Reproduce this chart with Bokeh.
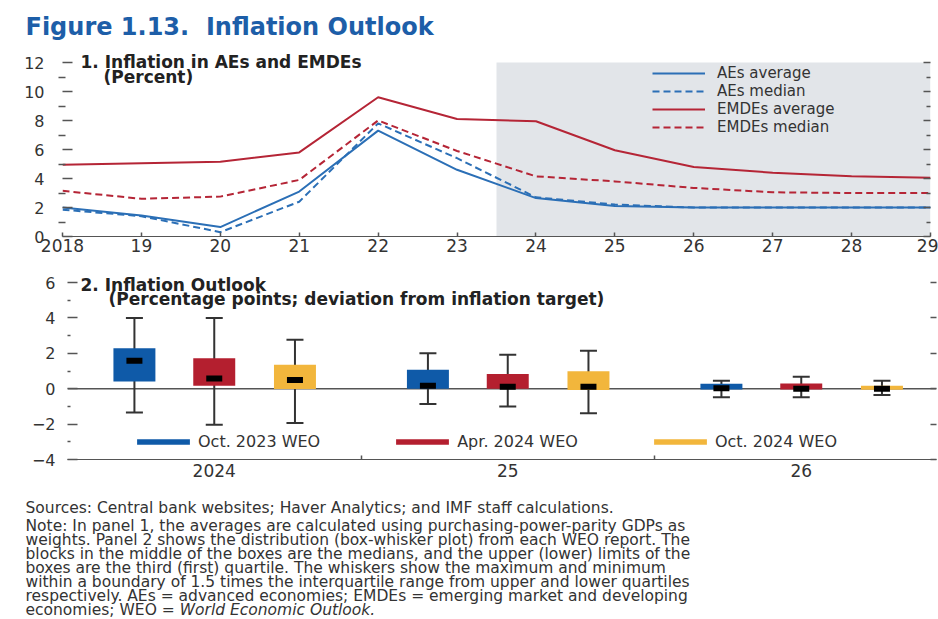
from bokeh.plotting import figure
from bokeh.models import (Range1d, FixedTicker, LinearAxis, BoxAnnotation, Span,
                          Label, Legend, LegendItem)
from bokeh.layouts import column
from bokeh.embed import file_html
from bokeh.resources import INLINE

# ---------------- data ----------------
years = [2018, 2019, 2020, 2021, 2022, 2023, 2024, 2025, 2026, 2027, 2028, 2029]
year_labels = ["2018", "19", "20", "21", "22", "23", "24", "25", "26", "27", "28", "29"]
aes_avg = [2.0, 1.45, 0.65, 3.1, 7.3, 4.6, 2.65, 2.1, 2.0, 2.0, 2.0, 2.0]
aes_med = [1.85, 1.4, 0.3, 2.4, 7.8, 5.4, 2.7, 2.2, 2.0, 2.0, 2.0, 2.0]
emdes_avg = [4.95, 5.05, 5.15, 5.8, 9.6, 8.1, 7.95, 5.95, 4.8, 4.4, 4.15, 4.05]
emdes_med = [3.15, 2.6, 2.75, 3.9, 8.0, 5.9, 4.15, 3.8, 3.35, 3.05, 3.0, 3.0]
projection_start = 2023.5
projection_end = 2029

groups = [0, 1, 2]
group_labels = ["2024", "25", "26"]
series_names = ["Oct. 2023 WEO", "Apr. 2024 WEO", "Oct. 2024 WEO"]
series_offsets = [-0.272, 0.0, 0.275]
q1 = {"Oct. 2023 WEO": [0.41, 0.0, -0.05],
      "Apr. 2024 WEO": [0.17, 0.0, -0.05],
      "Oct. 2024 WEO": [-0.02, -0.08, -0.06]}
q3 = {"Oct. 2023 WEO": [2.28, 1.07, 0.28],
      "Apr. 2024 WEO": [1.72, 0.83, 0.30],
      "Oct. 2024 WEO": [1.36, 0.98, 0.17]}
med = {"Oct. 2023 WEO": [1.58, 0.17, 0.02],
       "Apr. 2024 WEO": [0.58, 0.11, 0.0],
       "Oct. 2024 WEO": [0.49, 0.11, 0.0]}
wlo = {"Oct. 2023 WEO": [-1.34, -0.87, -0.49],
       "Apr. 2024 WEO": [-2.04, -1.0, -0.49],
       "Oct. 2024 WEO": [-1.94, -1.38, -0.36]}
whi = {"Oct. 2023 WEO": [4.0, 2.0, 0.45],
       "Apr. 2024 WEO": [4.0, 1.92, 0.68],
       "Oct. 2024 WEO": [2.77, 2.15, 0.45]}

title_text = "Figure 1.13.\u00a0 Inflation Outlook"
sources = "Sources: Central bank websites; Haver Analytics; and IMF staff calculations."
notes = [
    "Note: In panel 1, the averages are calculated using purchasing-power-parity GDPs as",
    "weights. Panel 2 shows the distribution (box-whisker plot) from each WEO report. The",
    "blocks in the middle of the boxes are the medians, and the upper (lower) limits of the",
    "boxes are the third (first) quartile. The whiskers show the maximum and minimum",
    "within a boundary of 1.5 times the interquartile range from upper and lower quartiles",
    "respectively. AEs = advanced economies; EMDEs = emerging market and developing",
]
last_note_plain = "economies; WEO ="
last_note_italic = "World Economic Outlook."

# ---------------- style ----------------
FONT = "DejaVu Sans"
TXT = "#333333"
TITLE_BLUE = "#1d5ea8"
BLUE_L = "#2b6fb6"
RED_L = "#b52536"
BOX_COLORS = ["#0f5aa8", "#b41f2f", "#f2b63c"]
AXIS_C = "#555555"
SHADE = "#e2e5e9"
W = 938


def no_align(f):
    if "frame_align" in f.properties():
        f.frame_align = False
    return f


def style_axes(p):
    for ax in p.axis:
        ax.major_label_text_font = FONT
        ax.major_label_text_font_size = "16px"
        ax.major_label_text_color = TXT
        ax.axis_line_color = AXIS_C
        ax.major_tick_line_color = AXIS_C
        ax.minor_tick_line_color = AXIS_C
        ax.major_tick_line_width = 1.5
        ax.minor_tick_line_width = 1.5


def blank_fig(h):
    f = figure(width=W, height=h, x_range=Range1d(0, 1), y_range=Range1d(0, 1),
               x_axis_type=None, y_axis_type=None, output_backend="svg",
               toolbar_location=None, min_border=0, outline_line_color=None)
    f.grid.visible = False
    return no_align(f)


# ---------------- header ----------------
pH = blank_fig(44)
pH.add_layout(Label(x=25, y=44 - 26, x_units="screen", y_units="screen", text=title_text,
                    text_font=FONT, text_font_style="bold", text_font_size="24px",
                    text_color=TITLE_BLUE, text_baseline="middle"))

# ---------------- panel 1 ----------------
# frame: page y 44..236, 12 at y=62  -> 14.5 px per unit
pA = figure(width=W, height=218, x_range=Range1d(2018, 2029), y_range=Range1d(0, 192 / 14.5),
            output_backend="svg", toolbar_location=None,
            min_border_left=62, min_border_right=8, min_border_top=0, min_border_bottom=26,
            outline_line_color=None)
no_align(pA)
pA.grid.visible = False
pA.add_layout(BoxAnnotation(left=projection_start, right=projection_end, bottom=0, top=12,
                            fill_color=SHADE, fill_alpha=1, line_color=None, level="underlay"))

r1 = pA.line(years, aes_avg, line_color=BLUE_L, line_width=2)
r2 = pA.line(years, aes_med, line_color=BLUE_L, line_width=2, line_dash="7 4")
r3 = pA.line(years, emdes_avg, line_color=RED_L, line_width=2)
r4 = pA.line(years, emdes_med, line_color=RED_L, line_width=2, line_dash="7 4")

pA.add_layout(LinearAxis(), "right")
style_axes(pA)
xa = pA.xaxis[0]
xa.ticker = FixedTicker(ticks=years, minor_ticks=[])
xa.major_label_overrides = {y: l for y, l in zip(years, year_labels)}
xa.major_tick_in = 4
xa.major_tick_out = 0
xa.major_label_standoff = 2
xa.major_label_text_font_size = "17px"
yticksA = list(range(0, 13, 2))
ya = pA.yaxis[0]
ya.ticker = FixedTicker(ticks=yticksA, minor_ticks=list(range(1, 12, 2)))
ya.axis_line_color = None
ya.major_tick_in = 10
ya.major_tick_out = 0
ya.minor_tick_in = 3
ya.minor_tick_out = 4
ya.major_label_standoff = 14
ra = pA.yaxis[1]
ra.ticker = FixedTicker(ticks=yticksA, minor_ticks=list(range(1, 12, 2)))
ra.major_label_overrides = {t: "" for t in yticksA}
ra.axis_line_color = None
ra.major_tick_in = 7
ra.major_tick_out = 0
ra.minor_tick_in = 4
ra.minor_tick_out = 0
ra.major_label_standoff = 0

legA = Legend(items=[LegendItem(label="AEs average", renderers=[r1]),
                     LegendItem(label="AEs median", renderers=[r2]),
                     LegendItem(label="EMDEs average", renderers=[r3]),
                     LegendItem(label="EMDEs median", renderers=[r4])],
              location=(590, 100), orientation="vertical", glyph_width=53, glyph_height=14,
              label_height=14, label_standoff=12, spacing=0, padding=0, margin=0,
              background_fill_alpha=0, border_line_color=None,
              label_text_font=FONT, label_text_font_size="15px", label_text_color=TXT)
pA.add_layout(legA)

# panel title (frame origin: page x=62, y=236)
pA.add_layout(Label(x=80 - 62, y=236 - 61, x_units="screen", y_units="screen",
                    text="1. Inflation in AEs and EMDEs", text_font=FONT, text_font_style="bold",
                    text_font_size="17px", text_color="#222222", text_baseline="middle"))
pA.add_layout(Label(x=103 - 62, y=236 - 76, x_units="screen", y_units="screen",
                    text="(Percent)", text_font=FONT, text_font_style="bold",
                    text_font_size="17px", text_color="#222222", text_baseline="middle"))

# ---------------- panel 2 ----------------
# frame: page y 262..459, 6 at y=282 -> 17.7 px per unit; x: 293.5 px per group
pB = figure(width=W, height=228, x_range=Range1d(-0.5, -0.5 + 869 / 293.5),
            y_range=Range1d(-4, -4 + 197 / 17.7),
            output_backend="svg", toolbar_location=None,
            min_border_left=67, min_border_right=2, min_border_top=0, min_border_bottom=31,
            outline_line_color=None)
no_align(pB)
pB.grid.visible = False
pB.add_layout(Span(location=0, dimension="width", line_color=AXIS_C, line_width=1.5,
                   level="underlay"))

box_renderers = []
for name, off, col in zip(series_names, series_offsets, BOX_COLORS):
    xs = [g + off for g in groups]
    pB.segment(x0=xs, y0=wlo[name], x1=xs, y1=whi[name], line_color="#333333", line_width=2)
    pB.scatter(xs, whi[name], marker="dash", size=17, line_color="#333333", line_width=2)
    pB.scatter(xs, wlo[name], marker="dash", size=17, line_color="#333333", line_width=2)
    rb = pB.vbar(x=xs, bottom=q1[name], top=q3[name], width=0.143, fill_color=col,
                 line_color=None)
    box_renderers.append(rb)
    pB.rect(x=xs, y=med[name], width=16, height=6, width_units="screen",
            height_units="screen", fill_color="black", line_color=None)

pB.add_layout(LinearAxis(), "right")
style_axes(pB)
xb = pB.xaxis[0]
xb.ticker = FixedTicker(ticks=groups, minor_ticks=[0.5, 1.5])
xb.major_label_overrides = {g: l for g, l in zip(groups, group_labels)}
xb.major_tick_in = 0
xb.major_tick_out = 0
xb.minor_tick_in = 4
xb.minor_tick_out = 0
xb.major_label_standoff = 4
xb.major_label_text_font_size = "17px"
yticksB = list(range(-4, 7, 2))
yb = pB.yaxis[0]
yb.ticker = FixedTicker(ticks=yticksB, minor_ticks=list(range(-3, 6, 2)))
yb.major_label_overrides = {-4: "\u22124", -2: "\u22122"}
yb.axis_line_color = None
yb.major_tick_in = 10
yb.major_tick_out = 0
yb.minor_tick_in = 3
yb.minor_tick_out = 0
yb.major_label_standoff = 12
rb_ax = pB.yaxis[1]
rb_ax.ticker = FixedTicker(ticks=yticksB, minor_ticks=[])
rb_ax.major_label_overrides = {t: "" for t in yticksB}
rb_ax.axis_line_color = None
rb_ax.major_tick_in = 6
rb_ax.major_tick_out = 0
rb_ax.major_label_standoff = 0

legB = Legend(items=[LegendItem(label=n, renderers=[r]) for n, r in zip(series_names, box_renderers)],
              location=(63, 8), orientation="horizontal", glyph_width=66, glyph_height=7,
              label_standoff=2, spacing=69, padding=0, margin=0,
              background_fill_alpha=0, border_line_color=None,
              label_text_font=FONT, label_text_font_size="16px", label_text_color=TXT)
pB.add_layout(legB)

# panel title (frame origin: page x=67, y=459)
pB.add_layout(Label(x=80 - 67, y=459 - 284, x_units="screen", y_units="screen",
                    text="2. Inflation Outlook", text_font=FONT, text_font_style="bold",
                    text_font_size="17px", text_color="#222222", text_baseline="middle"))
pB.add_layout(Label(x=108 - 67, y=459 - 298, x_units="screen", y_units="screen",
                    text="(Percentage points; deviation from inflation target)", text_font=FONT,
                    text_font_style="bold", text_font_size="17px", text_color="#222222",
                    text_baseline="middle"))

# ---------------- notes ----------------
HC = 129  # page y 490..619
pC = blank_fig(HC)
NX = 25
NOTE_PX = 15.5
NOTE_FS = f"{NOTE_PX}px"
pC.add_layout(Label(x=NX, y=619 - 507, x_units="screen", y_units="screen", text=sources,
                    text_font=FONT, text_font_size=NOTE_FS, text_color=TXT,
                    text_baseline="middle"))
y0 = 525
dy = 14
for i, line in enumerate(notes):
    pC.add_layout(Label(x=NX, y=619 - (y0 + i * dy), x_units="screen", y_units="screen",
                        text=line, text_font=FONT, text_font_size=NOTE_FS, text_color=TXT,
                        text_baseline="middle"))
last_y = 619 - (y0 + len(notes) * dy)
pC.add_layout(Label(x=NX, y=last_y, x_units="screen", y_units="screen",
                    text=last_note_plain, text_font=FONT, text_font_size=NOTE_FS,
                    text_color=TXT, text_baseline="middle"))
pC.add_layout(Label(x=NX + 9.95 * NOTE_PX, y=last_y, x_units="screen", y_units="screen",
                    text=last_note_italic, text_font=FONT, text_font_size=NOTE_FS,
                    text_font_style="italic", text_color=TXT, text_baseline="middle"))

layout = column(pH, pA, pB, pC)
open("out.html", "w").write(file_html(layout, INLINE))
